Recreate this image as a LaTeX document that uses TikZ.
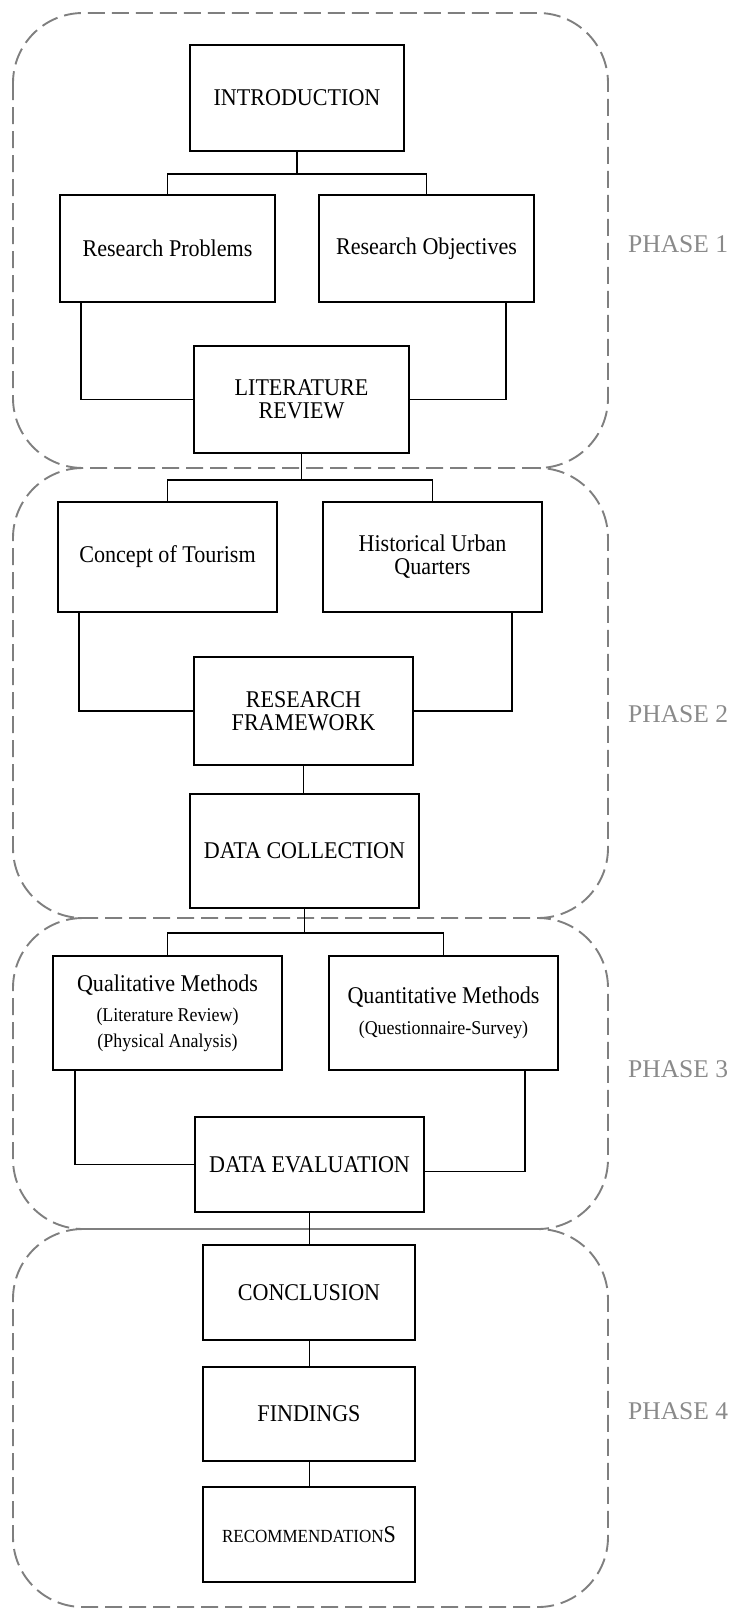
\documentclass[tikz,border=0pt]{standalone}
\usepackage{fontspec}
\setmainfont{Liberation Serif}
\newfontfamily\boxfont{Liberation Serif}[FakeStretch=0.92]
\usetikzlibrary{calc}
\definecolor{phasegray}{HTML}{7F7F7F}
\definecolor{labelgray}{HTML}{8A8A8A}
\begin{document}
\begin{tikzpicture}[x=1pt,y=-1pt,
  stagebox/.style={draw=black, line width=2.5pt, align=center, inner sep=2pt,
    font=\boxfont\fontsize{24}{23}\selectfont},
  branch/.style={line width=1.9pt},
  link/.style={line width=1pt},
  phase/.style={draw=phasegray, line width=1.9pt, dash pattern=on 17pt off 7pt,
    rounded corners=70pt},
  seam/.style={draw=phasegray, line width=1.8pt},
  phaselabel/.style={text=labelgray, anchor=west, inner sep=0pt,
    font=\fontsize{25.5}{28}\selectfont}]
\useasboundingbox (0,0) rectangle (737,1609);

% phase frames; a frame that sits under another one leaves out its top edge
\draw[phase] (13,13) rectangle (608,468);
\draw[phase] (83,468) -- (13,468) -- (13,918) -- (608,918) -- (608,468) -- (538,468);
\draw[phase] (83,918) -- (13,918) -- (13,1229) -- (608,1229) -- (608,918) -- (538,918);
\draw[phase] (83,1229) -- (13,1229) -- (13,1607) -- (608,1607) -- (608,1229) -- (538,1229);
\draw[seam] (82,1229) -- (539,1229);

\node[phaselabel] (p1) at (628,244) {PHASE 1};
\node[phaselabel] (p2) at (628,714) {PHASE 2};
\node[phaselabel] (p3) at (628,1069) {PHASE 3};
\node[phaselabel] (p4) at (628,1411) {PHASE 4};

% phase 1
\node[stagebox, minimum width=214pt, minimum height=106pt] (intro) at (297,98) {INTRODUCTION};
\node[stagebox, minimum width=215pt, minimum height=107pt] (rp) at (167.5,248.5) {Research Problems};
\node[stagebox, minimum width=215pt, minimum height=107pt] (ro) at (426.5,248.5) {Research Objectives};
\node[stagebox, minimum width=215pt, minimum height=107pt] (lr) at (301.5,399.5) {LITERATURE\\REVIEW};

% phase 2
\node[stagebox, minimum width=219pt, minimum height=110pt] (cot) at (167.5,557) {Concept of Tourism};
\node[stagebox, minimum width=219pt, minimum height=110pt] (huq) at (432.5,557) {Historical Urban\\Quarters};
\node[stagebox, minimum width=219pt, minimum height=108pt] (rf) at (303.5,711) {RESEARCH\\FRAMEWORK};
\node[stagebox, minimum width=229pt, minimum height=114pt] (dc) at (304.5,851) {DATA COLLECTION};

% phase 3
\node[stagebox, minimum width=229pt, minimum height=114pt] (qual) at (167.5,1013)
  {Qualitative Methods\\[7pt]{\fontsize{19.5}{23}\selectfont (Literature Review)}\\[3pt]{\fontsize{19.5}{23}\selectfont (Physical Analysis)}};
\node[stagebox, minimum width=229pt, minimum height=114pt] (quant) at (443.5,1013)
  {Quantitative Methods\\[8pt]{\fontsize{19.5}{23}\selectfont (Questionnaire-Survey)}};
\node[stagebox, minimum width=229pt, minimum height=95pt] (de) at (309.5,1164.5) {DATA EVALUATION};

% phase 4
\node[stagebox, minimum width=212pt, minimum height=95pt] (concl) at (309,1292.5) {CONCLUSION};
\node[stagebox, minimum width=212pt, minimum height=94pt] (find) at (309,1414) {FINDINGS};
\node[stagebox, minimum width=212pt, minimum height=95pt] (rec) at (309,1534.5)
  {{\fontsize{18.5}{23}\selectfont RECOMMENDATION}S};

% connectors, phase 1
\coordinate (j1) at ($(intro.south)+(0,22)$);
\draw[branch] (intro.south) -- (j1);
\draw[branch] (rp.north) |- (j1) -| (ro.north);
\draw[branch] ($(rp.south west)+(22,0)$) |- (lr.west);
\draw[branch] ($(ro.south east)+(-29,0)$) |- (lr.east);

% connectors, phase 2
\coordinate (j2) at ($(lr.south)+(0,26)$);
\draw[branch] (lr.south) -- (j2);
\draw[branch] (cot.north) |- (j2) -| (huq.north);
\draw[branch] ($(cot.south west)+(22,0)$) |- (rf.west);
\draw[branch] ($(huq.south east)+(-31,0)$) |- (rf.east);
\draw[link] (rf.south) -- (rf.south |- dc.north);

% connectors, phase 3
\coordinate (j3) at ($(dc.south)+(0,24)$);
\draw[branch] (dc.south) -- (j3);
\draw[branch] (qual.north) |- (j3) -| (quant.north);
\draw[branch] ($(qual.south west)+(23,0)$) |- (de.west);
\draw[branch] ($(quant.south east)+(-34,0)$) |- ([yshift=-7pt]de.east);
\draw[link] (de.south) -- (de.south |- concl.north);

% connectors, phase 4
\draw[link] (concl.south) -- (find.north);
\draw[link] (find.south) -- (rec.north);
\end{tikzpicture}
\end{document}
